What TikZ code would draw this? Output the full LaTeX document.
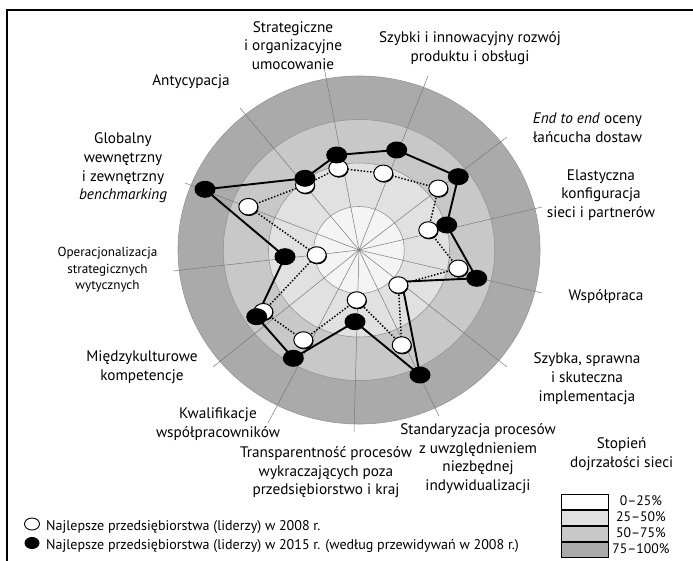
\documentclass[tikz,border=0pt]{standalone}
\usepackage{fontspec}
\setmainfont{PT Sans}
\usetikzlibrary{shapes.geometric,shadows}
\definecolor{ringA}{HTML}{F4F4F4}
\definecolor{ringB}{HTML}{E1E1E1}
\definecolor{ringC}{HTML}{C8C8C8}
\definecolor{ringD}{HTML}{AAAAAA}
\definecolor{gridgray}{HTML}{7A7A7A}
\pgfdeclarelayer{rings}
\pgfdeclarelayer{lines}
\pgfsetlayers{rings,lines,main}
\begin{document}
\begin{tikzpicture}[x=1bp,y=-1bp,
  lbl/.style={align=center,inner sep=0pt,font=\fontsize{15.3}{18.8}\selectfont},
  lblsmall/.style={align=center,inner sep=0pt,font=\fontsize{13.2}{16.5}\selectfont},
  rangetxt/.style={align=center,inner sep=0pt,font=\fontsize{13.8}{16}\selectfont},
  legtxt/.style={anchor=west,inner sep=0pt,font=\fontsize{14.1}{17}\selectfont},
  wdot/.style={ellipse,draw=black,line width=1bp,fill=white,minimum width=19bp,minimum height=16.5bp,inner sep=0pt,
     drop shadow={shadow xshift=0.7bp,shadow yshift=-1.1bp,opacity=1,fill=black}},
  bdot/.style={ellipse,fill=black,minimum width=21bp,minimum height=17bp,inner sep=0pt},
  spoke/.style={draw=gridgray,line width=0.5bp},
  ringline/.style={draw=gridgray!80,line width=0.6bp},
  solidpoly/.style={draw=black,line width=1.9bp,line join=round},
  dotpoly/.style={draw=black,line width=1.5bp,dash pattern=on 1.4bp off 1.8bp},
  swatch/.style={draw=black,line width=0.9bp,minimum width=47bp,minimum height=15.2bp,inner sep=0pt}
]
\useasboundingbox (0,0) rectangle (693,561);
% frame
\draw[line width=1.5bp] (7,561) -- (7,10) -- (693,10);

% rings
\coordinate (C) at (359,250);
\begin{pgfonlayer}{rings}
\path[fill=ringD,ringline] (C) ellipse [x radius=181bp, y radius=174bp];
\path[fill=ringC,ringline] (C) ellipse [x radius=135.75bp, y radius=130.5bp];
\path[fill=ringB,ringline] (C) ellipse [x radius=90.5bp, y radius=87bp];
\path[fill=ringA,ringline] (C) ellipse [x radius=45.25bp, y radius=43.5bp];
\coordinate (s1) at (324,67);
\coordinate (s2) at (428,76);
\coordinate (s3) at (507,137);
\coordinate (s4) at (542,207);
\coordinate (s5) at (542,293);
\coordinate (s6) at (507,367);
\coordinate (s7) at (439,416);
\coordinate (s8) at (354,432);
\coordinate (s9) at (268,423);
\coordinate (s10) at (213,367);
\coordinate (s11) at (173,271);
\coordinate (s12) at (185,183);
\coordinate (s13) at (240,108);
\foreach \i in {1,...,13} \draw[spoke] (C) -- (s\i);
\end{pgfonlayer}

% white dots (2008)
\node[wdot] (w1) at (338.3,168.3) {};
\node[wdot] (w2) at (383.3,173.3) {};
\node[wdot] (w3) at (438.3,188.3) {};
\node[wdot] (w4) at (428.3,230) {};
\node[wdot] (w5) at (458.3,268.3) {};
\node[wdot] (w6) at (398.3,285) {};
\node[wdot] (w7) at (401.7,345) {};
\node[wdot] (w8) at (356.7,300) {};
\node[wdot] (w9) at (303.3,340) {};
\node[wdot] (w10) at (263.3,311.7) {};
\node[wdot] (w11) at (316.7,255) {};
\node[wdot] (w12) at (248.3,206.7) {};
\node[wdot] (w13) at (305,185) {};

% black dots (2015)
\node[bdot] (b1) at (336.7,155) {};
\node[bdot] (b2) at (396.7,150) {};
\node[bdot] (b3) at (458.3,176.7) {};
\node[bdot] (b4) at (446.7,225) {};
\node[bdot] (b5) at (476.7,278.3) {};
\coordinate (b6) at (401.7,281.7);
\node[bdot] (b7) at (420,375) {};
\node[bdot] (b8) at (355,321.7) {};
\node[bdot] (b9) at (293.3,358.3) {};
\node[bdot] (b10) at (256.7,316.7) {};
\node[bdot] (b11) at (285,256.7) {};
\node[bdot] (b12) at (205,189.3) {};
\node[bdot] (b13) at (305,178.3) {};

\begin{pgfonlayer}{lines}
\draw[dotpoly] (w1.center) -- (w2.center) -- (w3.center) -- (w4.center) -- (w5.center) -- (w6.center) -- (w7.center)
  -- (w8.center) -- (w9.center) -- (w10.center) -- (w11.center) -- (w12.center) -- (w13.center) -- cycle;
\draw[solidpoly] (b1.center) -- (b2.center) -- (b3.center) -- (b4.center) -- (b5.center) -- (b6) -- (b7.center)
  -- (b8.center) -- (b9.center) -- (b10.center) -- (b11.center) -- (b12.center) -- (b13.center) -- cycle;
\end{pgfonlayer}

% axis labels
\node[lbl] (lstrat) at (293,45.5) {Strategiczne\\i organizacyjne\\umocowanie};
\node[lbl] (lszybki) at (470,48) {Szybki i innowacyjny rozwój\\produktu i obsługi};
\node[lbl] (lend) at (587.5,127.5) {\textit{End to end} oceny\\łańcucha dostaw};
\node[lbl] (lelast) at (601,195) {Elastyczna\\konfiguracja\\sieci i partnerów};
\node[lbl] (lwspol) at (606,296.7) {Współpraca};
\node[lbl] (lszybka) at (587,378.8) {Szybka, sprawna\\i skuteczna\\implementacja};
\node[lbl] (lstand) at (478,458.5) {Standaryzacja procesów\\z uwzględnieniem\\niezbędnej\\indywidualizacji};
\node[lbl] (ltransp) at (326,472.3) {Transparentność procesów\\wykraczających poza\\przedsiębiorstwo i kraj};
\node[lbl] (lkwal) at (218,424) {Kwalifikacje\\współpracowników};
\node[lbl] (lmiedzy) at (142,367.5) {Międzykulturowe\\kompetencje};
\node[lblsmall] (loper) at (107.5,270) {Operacjonalizacja\\strategicznych\\wytycznych};
\node[lbl] (lglob) at (123,168) {Globalny\\wewnętrzny\\i zewnętrzny\\\textit{benchmarking}};
\node[lbl] (lantyc) at (191,81.7) {Antycypacja};

% maturity legend
\node[lbl] (lstop) at (621.7,454) {Stopień\\dojrzałości sieci};
\node[swatch,fill=white] (k1) at (584.5,501.6) {};
\node[swatch,fill=ringB,anchor=north] (k2) at (k1.south) {};
\node[swatch,fill=ringC,anchor=north] (k3) at (k2.south) {};
\node[swatch,fill=ringD,anchor=north] (k4) at (k3.south) {};
\node[rangetxt] (t1) at (641,501) {0–25\%};
\node[rangetxt] (t2) at (641,516.5) {25–50\%};
\node[rangetxt] (t3) at (641,532.5) {50–75\%};
\node[rangetxt] (t4) at (641,549) {75–100\%};

% series legend
\node[ellipse,draw=black,line width=0.9bp,fill=white,minimum width=15bp,minimum height=12bp,inner sep=0pt] (lw) at (32,524) {};
\node[ellipse,fill=black,minimum width=15bp,minimum height=12bp,inner sep=0pt] (lb) at (32,543) {};
\node[legtxt] (lwt) at (46,527) {Najlepsze przedsiębiorstwa (liderzy) w 2008 r.};
\node[legtxt] (lbt) at (46,546) {Najlepsze przedsiębiorstwa (liderzy) w 2015 r. (według przewidywań w 2008 r.)};
\end{tikzpicture}
\end{document}
